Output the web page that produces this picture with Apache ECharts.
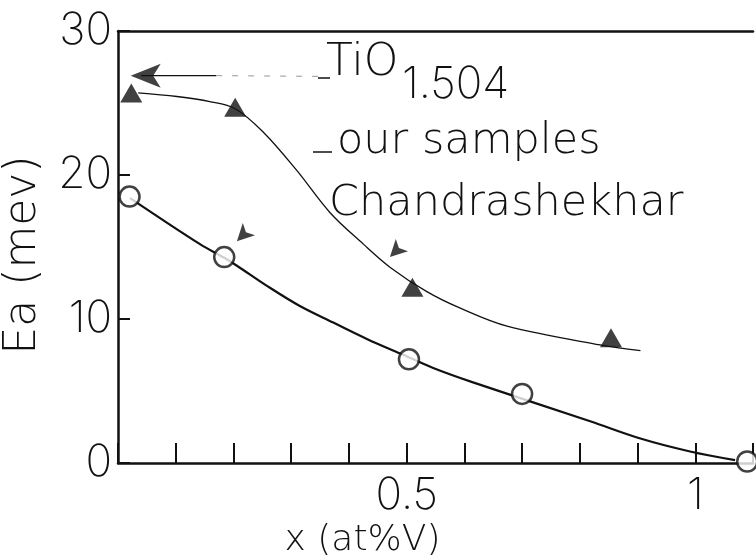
<!DOCTYPE html>
<html>
<head>
<meta charset="utf-8">
<script src="https://cdn.jsdelivr.net/npm/echarts@6/dist/echarts.min.js"></script>
<style>
html,body{margin:0;padding:0;background:#fff;}
#c{width:756px;height:556px;}
</style>
</head>
<body>
<div id="c"></div>
<script>
// ---- data ----
const xLabelValues = [0.5, 1];
const yTicks = [0, 10, 20, 30];

// our samples (open circles)
const circleX = [0.02, 0.184, 0.504, 0.700, 1.09];
const circleY = [18.5, 14.3, 7.2, 4.8, 0.1];

// filled triangles
const triX = [0.023, 0.203, 0.51, 0.854];
const triY = [25.7, 24.7, 12.2, 8.7];

// Chandrashekhar (small arrow marks)
const chandraX = [0.206, 0.471];
const chandraY = [15.4, 14.3];

// TiO1.504 (arrow at the axis)
const tioX = [0.022];
const tioY = [26.9];
const tioLeaderX = [0.04, 0.17];
const tioLeaderY = [26.9, 26.9];
const tioDashX = [0.17, 0.35];
const tioDashY = [26.9, 26.85];

// fitted curves
const upperCurveX = [0.035, 0.102, 0.159, 0.203, 0.251, 0.31, 0.367, 0.425, 0.471, 0.535, 0.593, 0.674, 0.835, 0.905];
const upperCurveY = [25.7, 25.45, 25.1, 24.6, 23.0, 20.3, 17.4, 15.2, 13.6, 11.9, 10.75, 9.5, 8.2, 7.8];
const lowerCurveX = [0.021, 0.142, 0.184, 0.206, 0.258, 0.315, 0.373, 0.432, 0.489, 0.546, 0.615, 0.818, 0.905, 0.991, 1.069];
const lowerCurveY = [18.4, 15.2, 14.25, 13.7, 12.3, 10.9, 9.75, 8.6, 7.6, 6.6, 5.6, 2.9, 1.7, 0.8, 0.2];

const zip = (xs, ys) => xs.map((x, i) => [x, ys[i]]);

const TEXT_FONT = '"DejaVu Sans Light", "DejaVu Sans", sans-serif';
const NUM_FONT = 'Inter, "DejaVu Sans Light", sans-serif';
const INK = '#111';

const chart = echarts.init(document.getElementById('c'), null, {renderer: 'canvas'});
chart.setOption({
  backgroundColor: '#fff',
  animation: false,
  grid: {left: 118, top: 31, width: 635, height: 432, containLabel: false, outerBoundsMode: 'none'},
  xAxis: [{
    type: 'value', min: 0, max: 1.1, interval: 0.1,
    axisLine: {show: true, onZero: false, lineStyle: {color: INK, width: 2.5}},
    axisTick: {show: true, inside: true, length: 20, lineStyle: {color: INK, width: 2}},
    splitLine: {show: false},
    axisLabel: {
      margin: 11, color: INK, fontFamily: NUM_FONT, fontSize: 44, fontWeight: 200,
      formatter: v => {
        const hit = xLabelValues.find(t => Math.abs(t - v) < 1e-6);
        return hit === undefined ? '' : String(hit);
      }
    },
    name: 'x (at%V)', nameLocation: 'middle', nameGap: 42,
    nameTextStyle: {color: INK, fontFamily: TEXT_FONT, fontSize: 36, padding: [0, 146, 0, 0]}
  }, {
    type: 'value', min: 0, max: 1.1, position: 'top',
    axisLine: {show: true, onZero: false, lineStyle: {color: INK, width: 2.5}},
    axisTick: {show: false}, axisLabel: {show: false}, splitLine: {show: false}
  }],
  yAxis: {
    type: 'value', min: 0, max: 30, interval: 10,
    axisLine: {show: true, onZero: false, lineStyle: {color: INK, width: 2.5}},
    axisTick: {show: true, inside: true, length: 12, lineStyle: {color: INK, width: 2}},
    splitLine: {show: false},
    axisLabel: {margin: 6, color: INK, fontFamily: NUM_FONT, fontSize: 44, fontWeight: 200,
      formatter: v => yTicks.indexOf(v) >= 0 ? String(v) : ''},
    name: 'Ea (mev)', nameLocation: 'middle', nameGap: 72, nameRotate: 90,
    nameTextStyle: {color: INK, fontFamily: TEXT_FONT, fontSize: 44, padding: [0, 16, 0, 0]}
  },
  series: [
    {name: 'upper curve', type: 'line', data: zip(upperCurveX, upperCurveY), smooth: 0.35,
     showSymbol: false, symbol: 'none', lineStyle: {color: INK, width: 1.3}, z: 2},
    {name: 'lower curve', type: 'line', data: zip(lowerCurveX, lowerCurveY), smooth: 0.35,
     showSymbol: false, symbol: 'none', lineStyle: {color: INK, width: 2.2}, z: 2},
    {name: 'TiO leader', type: 'line', data: zip(tioLeaderX, tioLeaderY), symbol: 'none',
     lineStyle: {color: INK, width: 1.2}, z: 2},
    {name: 'TiO dash', type: 'line', data: zip(tioDashX, tioDashY), symbol: 'none',
     lineStyle: {color: '#999', width: 1, type: [6, 10]}, z: 2},
    {name: 'our samples', type: 'scatter', data: zip(circleX, circleY), symbol: 'circle', symbolSize: 20,
     itemStyle: {color: '#fff', borderColor: INK, borderWidth: 2.5}, z: 5},
    {name: 'triangles', type: 'scatter', data: zip(triX, triY), symbol: 'triangle', symbolSize: [22, 19],
     itemStyle: {color: INK}, z: 5},
    {name: 'Chandrashekhar', type: 'scatter', data: zip(chandraX, chandraY), symbol: 'arrow', symbolSize: [13, 17],
     symbolRotate: 135, itemStyle: {color: INK}, z: 5},
    {name: 'TiO1.504', type: 'scatter', data: zip(tioX, tioY), symbol: 'arrow', symbolSize: [18, 30],
     symbolRotate: 90, itemStyle: {color: INK}, z: 5}
  ],
  graphic: [
    {type: 'text', left: 326, top: 42, style: {text: 'TiO', font: '44px ' + TEXT_FONT, fill: INK}},
    {type: 'text', left: 402, top: 63, style: {text: '1.504', font: '200 44px ' + NUM_FONT, fill: INK}},
    {type: 'text', left: 337, top: 120, style: {text: 'our samples', font: '43px ' + TEXT_FONT, fill: INK}},
    {type: 'text', left: 329, top: 182, style: {text: 'Chandrashekhar', font: '43px ' + TEXT_FONT, fill: INK}},
    {type: 'line', shape: {x1: 318, y1: 78, x2: 330, y2: 78}, style: {stroke: INK, lineWidth: 1.5}},
    {type: 'line', shape: {x1: 313, y1: 152, x2: 332, y2: 152}, style: {stroke: INK, lineWidth: 1.5}}
  ]
});
</script>
</body>
</html>
